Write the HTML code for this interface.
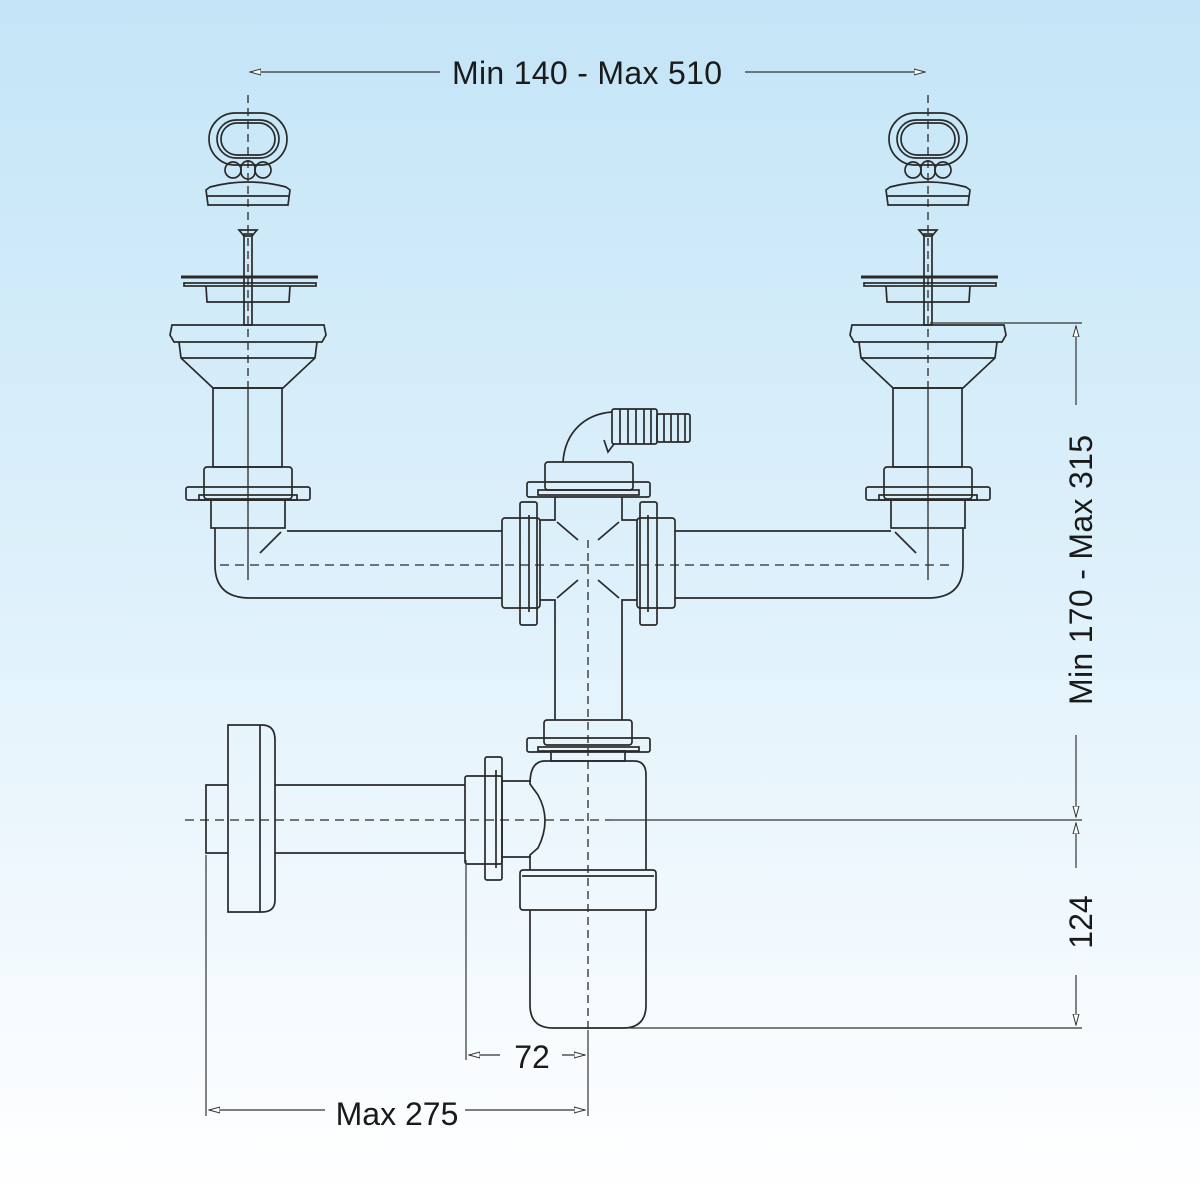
<!DOCTYPE html>
<html><head><meta charset="utf-8"><style>
html,body{margin:0;padding:0}
body{width:1200px;height:1200px;background:linear-gradient(#c3e5f7 0%,#dff1fb 50%,#f6fbfe 85%,#ffffff 100%);}
svg{display:block}
text{font-family:"Liberation Sans",Arial,sans-serif;fill:#1a1a1a}
</style></head><body>
<svg width="1200" height="1200" viewBox="0 0 1200 1200" xmlns="http://www.w3.org/2000/svg">
<defs>
<marker id="ar" markerWidth="12" markerHeight="8" refX="11" refY="4" orient="auto" markerUnits="userSpaceOnUse">
<path d="M0,1 L11,4 L0,7 Z" fill="#fff" stroke="#333" stroke-width="1"/></marker>
<g id="sink" fill="none" stroke="#2a2a2a" stroke-width="1.7">
<rect x="-39" y="113" width="78" height="52" rx="26"/>
<rect x="-31" y="120" width="62" height="38" rx="19"/>
<rect x="-27" y="123" width="54" height="32" rx="16"/>
<circle cx="-15" cy="170" r="8"/><circle cx="15" cy="170" r="8"/>
<rect x="-7" y="161" width="14" height="18" rx="7"/>
<path d="M-38 187 Q0 177 38 187 L42 190 L40 205 L-40 205 L-42 190 Z"/>
<line x1="-41" y1="196" x2="41" y2="196"/>
<rect x="-4" y="234" width="8" height="91"/>
<path d="M-9 230 L9 230 L4 236 L-4 236 Z"/>
<line x1="-67" y1="277" x2="70" y2="277" stroke-width="3"/>
<rect x="-64" y="283" width="132" height="3"/>
<path d="M-42 286 L-41 302 L41 302 L42 286"/>
<path d="M-76 325 L76 325 L78 335 L74 342 L-74 342 L-78 335 Z"/>
<path d="M-69 342 L-67 358 L-35 388 L35 388 L67 358 L69 342"/>
<line x1="-67" y1="358" x2="67" y2="358"/>
<rect x="-35" y="388" width="69" height="79"/>
<rect x="-44" y="467" width="88" height="32" rx="3"/>
<rect x="-62" y="487" width="124" height="13" rx="2"/>
<rect x="-49" y="495" width="98" height="5"/>
<rect x="-37" y="500" width="74" height="28"/>
<line x1="0" y1="95" x2="0" y2="388" stroke-dasharray="8,5" stroke-width="1.3"/>
<line x1="0" y1="388" x2="0" y2="580" stroke-width="1.3"/>
</g>
</defs>

<use href="#sink" transform="translate(248,0)"/>
<use href="#sink" transform="translate(928,0)"/>

<g fill="none" stroke="#2a2a2a" stroke-width="1.7">
<path d="M215 528 L215 565 Q215 598 250 598 L502 598"/>
<path d="M287 531 L502 531"/>
<path d="M963 528 L963 565 Q963 598 928 598 L675 598"/>
<path d="M891 531 L675 531"/>
<line x1="281" y1="532" x2="260" y2="553"/>
<line x1="895" y1="532" x2="916" y2="553"/>
<line x1="220" y1="565" x2="955" y2="565" stroke-dasharray="9,6" stroke-width="1.3"/>

<rect x="502" y="518" width="38" height="90" rx="3"/>
<rect x="520" y="502" width="17" height="123" rx="2"/>
<line x1="529" y1="515" x2="529" y2="612"/>
<rect x="637" y="518" width="38" height="90" rx="3"/>
<rect x="640" y="502" width="17" height="123" rx="2"/>
<line x1="648" y1="515" x2="648" y2="612"/>
<path d="M540 520 L555 520 L555 497 M622 497 L622 520 L637 520 M540 600 L555 600 L555 720 M637 600 L622 600 L622 720"/>
<path d="M557 522 L578 540 M619 522 L598 540 M557 598 L578 580 M619 598 L598 580"/>
<rect x="545" y="462" width="88" height="28" rx="3"/>
<rect x="527" y="482" width="123" height="15" rx="2"/>
<rect x="538" y="490" width="101" height="5"/>
<path d="M563 462 C565 432 585 414 612 412"/>
<path d="M604 440 L608 452 L614 444"/>
<rect x="612" y="409" width="45" height="35" rx="2"/>
<path d="M620 409 V444 M628 409 V444 M636 409 V444 M644 409 V444 M651 409 V444"/>
<rect x="657" y="414" width="33" height="28" rx="2"/>
<path d="M664 414 V442 M671 414 V442 M678 414 V442 M685 414 V442"/>
<rect x="544" y="720" width="88" height="25" rx="3"/>
<rect x="527" y="738" width="123" height="14" rx="2"/>
<rect x="538" y="747" width="101" height="4"/>
<rect x="551" y="751" width="74" height="10"/>
<path d="M545 761 L634 761 Q646 761 646 775 L646 870"/>
<path d="M530 870 L530 855 L538 848 Q552 820 538 795 L530 784 Q530 761 545 761"/>
<rect x="520" y="870" width="136" height="40" rx="3"/>
<line x1="522" y1="876" x2="654" y2="876"/>
<path d="M530 910 L530 1005 Q530 1028 553 1028 L623 1028 Q646 1028 646 1005 L646 910"/>
<path d="M502 781 L531 781 M502 857 L531 857"/>
<rect x="465" y="776" width="37" height="88" rx="2"/>
<rect x="485" y="757" width="17" height="123" rx="2"/>
<line x1="496" y1="770" x2="496" y2="868"/>
<path d="M275 785 L465 785 M275 853 L465 853"/>
<path d="M228 725 L262 725 Q275 725 275 740 L275 900 Q275 912 262 912 L228 912 Z"/>
<line x1="260" y1="725" x2="260" y2="912"/>
<path d="M228 785 L206 785 L206 853 L228 853"/>
<line x1="588" y1="540" x2="588" y2="1030" stroke-dasharray="8,5" stroke-width="1.3"/>
<line x1="185" y1="820" x2="610" y2="820" stroke-dasharray="9,6" stroke-width="1.2"/>
</g>

<g fill="none" stroke="#333" stroke-width="1.2">
<line x1="610" y1="820" x2="1082" y2="820"/>
<line x1="930" y1="323" x2="1082" y2="323"/>
<line x1="590" y1="1028" x2="1082" y2="1028"/>
<line x1="440" y1="72" x2="250" y2="72" marker-end="url(#ar)"/>
<line x1="745" y1="72" x2="925" y2="72" marker-end="url(#ar)"/>
<line x1="1076" y1="405" x2="1076" y2="326" marker-end="url(#ar)"/>
<line x1="1076" y1="735" x2="1076" y2="817" marker-end="url(#ar)"/>
<line x1="1076" y1="868" x2="1076" y2="823" marker-end="url(#ar)"/>
<line x1="1076" y1="975" x2="1076" y2="1025" marker-end="url(#ar)"/>
<line x1="466" y1="860" x2="466" y2="1060"/>
<line x1="588" y1="1030" x2="588" y2="1116"/>
<line x1="206" y1="855" x2="206" y2="1116"/>
<line x1="500" y1="1055" x2="469" y2="1055" marker-end="url(#ar)"/>
<line x1="562" y1="1055" x2="585" y2="1055" marker-end="url(#ar)"/>
<line x1="325" y1="1110" x2="209" y2="1110" marker-end="url(#ar)"/>
<line x1="465" y1="1110" x2="585" y2="1110" marker-end="url(#ar)"/>
</g>
<text x="587" y="84" font-size="32" text-anchor="middle" textLength="270">Min 140 - Max 510</text>
<text x="532" y="1068" font-size="32" text-anchor="middle">72</text>
<text x="397" y="1125" font-size="32" text-anchor="middle">Max 275</text>
<text transform="translate(1092,570) rotate(-90)" font-size="32" text-anchor="middle" textLength="270">Min 170 - Max 315</text>
<text transform="translate(1092,922) rotate(-90)" font-size="32" text-anchor="middle">124</text>
</svg>
</body></html>
